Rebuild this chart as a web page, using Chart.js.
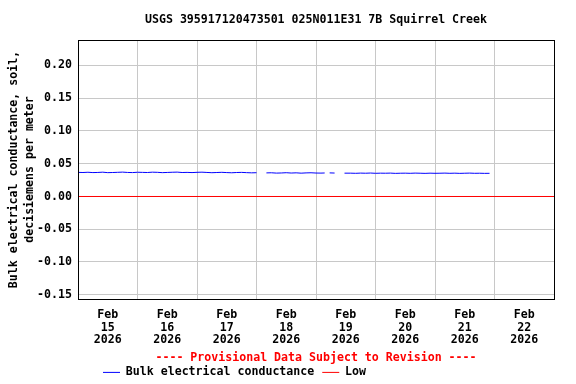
<!DOCTYPE html>
<html>
<head>
<meta charset="utf-8">
<script src="https://cdn.jsdelivr.net/npm/chart.js"></script>
<style>
  body { margin: 0; background: #fff; }
  #wrap { width: 576px; height: 384px; }
</style>
</head>
<body>
<div id="wrap"><canvas id="chart" width="576" height="384"></canvas></div>
<script>
// hours since Feb 15 2026 00:00
const hours = [
    0, 2, 4, 6, 8, 10, 12, 14, 16, 18, 20, 22, 24, 26, 28, 30, 32, 34, 36,
    38, 40, 42, 44, 46, 48, 50, 52, 54, 56, 58, 60, 62, 64, 66, 68, 70, 72,
    74,
    76, 78, 80, 82, 84, 86, 88, 90, 92, 94, 96, 98,
    99.5, 100.5, 101.5, 103.5, 105, 107.5,
    110, 112, 114, 116, 118, 120, 122, 124, 126, 128, 130, 132, 134, 136, 138,
    140, 142, 144, 146, 148, 150, 152, 154, 156, 158, 160, 162, 164, 166
];
const conductance = [
    0.0368, 0.0366, 0.0370, 0.0365, 0.0367, 0.0371, 0.0364, 0.0366, 0.0369, 0.0372,
    0.0367, 0.0365, 0.0370, 0.0368, 0.0366, 0.0371, 0.0369, 0.0364, 0.0367, 0.0370,
    0.0372, 0.0366, 0.0368, 0.0365, 0.0369, 0.0371, 0.0367, 0.0363, 0.0366, 0.0369,
    0.0365, 0.0362, 0.0366, 0.0368, 0.0364, 0.0361, 0.0363,
    null,
    0.0360, 0.0362, 0.0357, 0.0359, 0.0363, 0.0358, 0.0361, 0.0356, 0.0360, 0.0362,
    0.0358, 0.0357,
    0.0359, null, 0.0360, 0.0358, null, 0.0356,
    0.0356, 0.0354, 0.0357, 0.0355, 0.0358, 0.0354, 0.0356, 0.0355, 0.0357, 0.0353,
    0.0355, 0.0356, 0.0354, 0.0357, 0.0355, 0.0353, 0.0356, 0.0354, 0.0355, 0.0357,
    0.0354, 0.0356, 0.0353, 0.0355, 0.0357, 0.0354, 0.0355, 0.0353, 0.0354
];
const lowHours = [0, 192];
const lowValues = [0, 0];

const gridHours = [0, 24, 48, 72, 96, 120, 144, 168, 192];
const labelHours = [12, 36, 60, 84, 108, 132, 156, 180];
const dayLabels = ['15', '16', '17', '18', '19', '20', '21', '22'];
const yTicks = [-0.15, -0.10, -0.05, 0.00, 0.05, 0.10, 0.15, 0.20];

const titleText = 'USGS 395917120473501 025N011E31 7B Squirrel Creek';
const provisionalText = '---- Provisional Data Subject to Revision ----';

const mono = 'DejaVu Sans Mono';
const font = { family: mono, size: 11.6, weight: 'bold' };

const frame = {
    id: 'frame',
    afterLayout(chart) {
        const a = chart.chartArea;
        // title and provisional note are centred over the plot, legend starts under it
        const sub = chart.boxes.find(b => b.options && b.options.text === provisionalText);
        [chart.titleBlock, sub].forEach(b => {
            if (b) { b.left = a.left; b.right = a.right; }
        });
        chart.legend.left = 95;
    },
    afterDraw(chart) {
        const { ctx, chartArea: a } = chart;
        ctx.save();
        ctx.strokeStyle = '#000';
        ctx.lineWidth = 1;
        ctx.strokeRect(Math.round(a.left) + 0.5, Math.round(a.top) + 0.5,
            Math.round(a.right - a.left), Math.round(a.bottom - a.top));
        ctx.restore();
    }
};

new Chart(document.getElementById('chart'), {
    type: 'line',
    data: {
        datasets: [{
            label: 'Bulk electrical conductance',
            data: hours.map((h, i) => ({ x: h, y: conductance[i] })),
            borderColor: '#0000ff',
            borderWidth: 1,
            pointRadius: 0,
            spanGaps: false
        }, {
            label: 'Low',
            data: lowHours.map((h, i) => ({ x: h, y: lowValues[i] })),
            borderColor: '#ff0000',
            borderWidth: 1,
            pointRadius: 0
        }]
    },
    options: {
        responsive: false,
        animation: false,
        layout: { padding: { right: 22, bottom: -4.2 } },
        scales: {
            x: {
                type: 'linear',
                min: 0,
                max: 192,
                afterBuildTicks: scale => {
                    scale.ticks = gridHours.concat(labelHours)
                        .sort((a, b) => a - b).map(v => ({ value: v }));
                },
                afterFit: scale => { scale.height = 52; },
                ticks: {
                    autoSkip: false,
                    maxRotation: 0,
                    padding: 9,
                    color: '#000',
                    font: { ...font, lineHeight: 1.12 },
                    callback: v => {
                        const i = labelHours.indexOf(v);
                        return i < 0 ? '' : ['Feb', dayLabels[i], '2026'];
                    }
                },
                grid: {
                    drawTicks: false,
                    color: c => (c.tick && c.tick.value % 24 === 0) ? '#c8c8c8' : 'rgba(0,0,0,0)'
                },
                border: { display: false }
            },
            y: {
                min: -0.1565,
                max: 0.2389,
                afterBuildTicks: scale => {
                    scale.ticks = yTicks.map(v => ({ value: v }));
                },
                afterFit: scale => { scale.width = 78; },
                ticks: {
                    padding: 6,
                    color: '#000',
                    font: font,
                    callback: v => v.toFixed(2)
                },
                grid: { drawTicks: false, color: '#c8c8c8' },
                border: { display: false },
                title: {
                    display: true,
                    text: ['Bulk electrical conductance, soil,', 'decisiemens per meter'],
                    color: '#000',
                    font: { ...font, lineHeight: 1.35 },
                    padding: { top: 6, bottom: 0 }
                }
            }
        },
        plugins: {
            title: {
                display: true,
                text: titleText,
                color: '#000',
                font: font,
                padding: { top: 13, bottom: 13.08 }
            },
            subtitle: {
                display: true,
                position: 'bottom',
                weight: 500,
                text: provisionalText,
                color: '#ff0000',
                font: { ...font, lineHeight: 1 },
                padding: { top: 1, bottom: -5 }
            },
            legend: {
                position: 'bottom',
                align: 'start',
                labels: {
                    usePointStyle: true,
                    pointStyle: 'line',
                    pointStyleWidth: 17,
                    padding: 8,
                    color: '#000',
                    font: font
                }
            },
            tooltip: { enabled: false }
        }
    },
    plugins: [frame]
});
</script>
</body>
</html>
